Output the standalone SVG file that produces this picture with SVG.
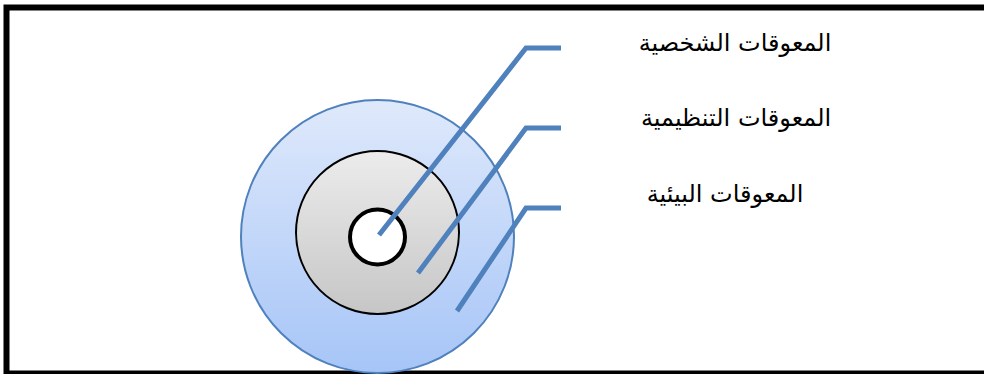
<svg xmlns="http://www.w3.org/2000/svg" width="984" height="374" viewBox="0 0 984 374">
<defs>
<linearGradient id="gBlue" x1="0" y1="0" x2="0" y2="1">
<stop offset="0" stop-color="#dfe9fb"/>
<stop offset="1" stop-color="#a6c5f7"/>
</linearGradient>
<linearGradient id="gGray" x1="0" y1="0" x2="0" y2="1">
<stop offset="0" stop-color="#ececec"/>
<stop offset="1" stop-color="#c6c6c6"/>
</linearGradient>
<style>
.lbl{font-family:"DejaVu Sans","Noto Sans",sans-serif;font-size:24px;fill:#000;text-anchor:middle}
.con{fill:none;stroke:#4f81bd;stroke-width:5;stroke-linejoin:miter}
</style>
</defs>
<rect width="984" height="374" fill="#fff"/>
<g id="frame">
<path d="M984 7.5 H6.5 V373.5 H984" fill="none" stroke="#000" stroke-width="6"/>
</g>
<g id="outer">
<circle cx="377.5" cy="236.5" r="136.5" fill="url(#gBlue)" stroke="#4f81bd" stroke-width="2"/>
</g>
<g id="middle">
<circle cx="377.5" cy="232.5" r="81.5" fill="url(#gGray)" stroke="#000" stroke-width="2"/>
</g>
<g id="inner">
<circle cx="377.5" cy="237" r="27.5" fill="#fff" stroke="#000" stroke-width="4"/>
</g>
<g id="connectors">
<path class="con" d="M561 48 H526 L379 235"/>
<path class="con" d="M561 128 H526 L418 273"/>
<path class="con" d="M561 208 H526 L457 311"/>
</g>
<g id="label1"><text class="lbl" x="735" y="51">المعوقات الشخصية</text></g>
<g id="label2"><text class="lbl" x="736" y="126">المعوقات التنظيمية</text></g>
<g id="label3"><text class="lbl" x="725" y="202">المعوقات البيئية</text></g>
</svg>
